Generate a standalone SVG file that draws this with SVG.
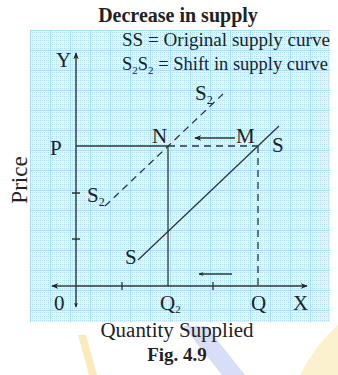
<svg xmlns="http://www.w3.org/2000/svg" width="338" height="375" viewBox="0 0 338 375">
<defs>
<pattern id="minor" width="4" height="4" patternUnits="userSpaceOnUse">
<rect width="4" height="4" fill="#e2f3fb"/>
<path d="M0 0.5H4M0.5 0V4" stroke="#b3ddf1" stroke-width="1" stroke-dasharray="1 1"/>
</pattern>
<pattern id="major" width="20" height="20" patternUnits="userSpaceOnUse" x="30" y="30">
<path d="M0 0.5H20M0.5 0V20" stroke="#a3d4ec" stroke-width="0.8"/>
</pattern>
<marker id="ah" viewBox="0 0 10 10" refX="9" refY="5" markerWidth="7" markerHeight="7" orient="auto" markerUnits="userSpaceOnUse">
<path d="M0 1L10 5L0 9L3 5Z" fill="#222"/>
</marker>
<marker id="sh" viewBox="0 0 10 10" refX="9" refY="5" markerWidth="5" markerHeight="5" orient="auto" markerUnits="userSpaceOnUse">
<path d="M0 1L10 5L0 9L3 5Z" fill="#222"/>
</marker>
</defs>
<style>
.t{font-family:"Liberation Serif","Times New Roman",serif;fill:#222}
.b{font-weight:bold}
.ax{stroke:#333;stroke-width:1.4;fill:none}
.ln{stroke:#333;stroke-width:1.3;fill:none}
.ds{stroke:#333;stroke-width:1.3;fill:none;stroke-dasharray:7 5}
</style>
<rect width="338" height="375" fill="#fff"/>
<rect x="30" y="30" width="300" height="292" fill="url(#minor)"/>
<rect x="30" y="30" width="300" height="292" fill="url(#major)"/>
<g id="watermark" opacity="0.55">
<path d="M183 326L206 326L245 375L222 375Z" fill="#b8c4ef"/>
<path d="M78 335L86 335L97 375L89 375Z" fill="#f9dc86"/>
<path d="M300 375Q315 345 338 325L338 375Z" fill="#fbe7a8"/>
</g>
<text class="t b" x="178" y="22" font-size="20" text-anchor="middle">Decrease in supply</text>
<text class="t" x="122" y="46" font-size="19" textLength="208" lengthAdjust="spacingAndGlyphs">SS = Original supply curve</text>
<text class="t" x="122" y="70" font-size="18.5">S<tspan font-size="11" dy="4">2</tspan><tspan dy="-4">S</tspan><tspan font-size="11" dy="4">2</tspan><tspan dy="-4"> = Shift in supply curve</tspan></text>
<text class="t" font-size="23" transform="translate(27,180) rotate(-90)" text-anchor="middle">Price</text>
<g id="connectors">
<line class="ax" x1="76" y1="286" x2="76" y2="53" marker-end="url(#ah)"/>
<line class="ax" x1="76" y1="286" x2="76" y2="307" marker-end="url(#sh)"/>
<line class="ax" x1="76" y1="286" x2="307" y2="286" marker-end="url(#ah)"/>
<line class="ax" x1="76" y1="286" x2="52" y2="286" marker-end="url(#ah)"/>
<path class="ln" d="M72 193H80M72 239H80M122 282V290M213 282V290"/>
<line class="ln" x1="76" y1="146" x2="168" y2="146"/>
<line class="ds" x1="168" y1="146" x2="258" y2="146"/>
<line class="ln" x1="168" y1="146" x2="168" y2="286"/>
<line class="ds" x1="258" y1="146" x2="258" y2="286"/>
<line id="SS" class="ln" x1="138" y1="260" x2="279" y2="126"/>
<line id="S2S2" class="ds" x1="105" y1="206" x2="223" y2="94"/>
<line class="ln" x1="235" y1="138" x2="195" y2="138" marker-end="url(#ah)"/>
<line class="ln" x1="232" y1="274" x2="199" y2="274" marker-end="url(#sh)"/>
</g>
<g id="labels" class="t" font-size="21">
<text class="t" x="56" y="67">Y</text>
<text class="t" x="50" y="155">P</text>
<text class="t" x="152" y="143">N</text>
<text class="t" x="236" y="143">M</text>
<text class="t" x="272" y="152">S</text>
<text class="t" x="195" y="100">S<tspan font-size="12" dy="4">2</tspan></text>
<text class="t" x="87" y="202">S<tspan font-size="12" dy="4">2</tspan></text>
<text class="t" x="125" y="264">S</text>
<text class="t" x="54" y="310">0</text>
<text class="t" x="160" y="310">Q<tspan font-size="11" dy="3">2</tspan></text>
<text class="t" x="251" y="310">Q</text>
<text class="t" x="293" y="310">X</text>
</g>
<text class="t" x="177" y="337" font-size="20" text-anchor="middle" textLength="153" lengthAdjust="spacingAndGlyphs">Quantity Supplied</text>
<text class="t b" x="177" y="361" font-size="19" text-anchor="middle">Fig. 4.9</text>
</svg>
